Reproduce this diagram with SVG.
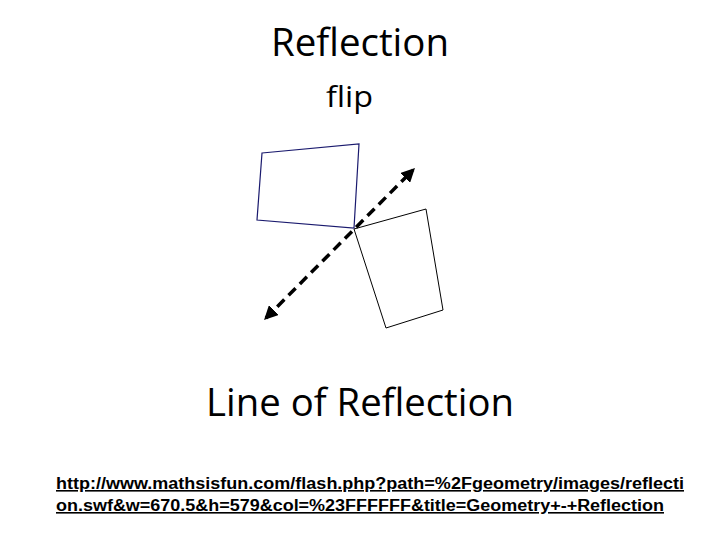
<svg xmlns="http://www.w3.org/2000/svg" width="720" height="540" viewBox="0 0 720 540">
<defs><marker id="ah" viewBox="0 0 10 10" refX="8" refY="5" markerWidth="4" markerHeight="4" orient="auto-start-reverse"><path d="M0,0L10,5L0,10z" fill="#000"/></marker>
<style>.t{font-family:"Open Sans","Liberation Sans",sans-serif;fill:#000}.u{font-family:"Liberation Sans",Arial,sans-serif;font-weight:bold;font-size:16px;fill:#000;text-decoration:underline}</style></defs>
<rect width="720" height="540" fill="#fff"/>
<text class="t" x="271" y="56" font-size="38" textLength="178" lengthAdjust="spacingAndGlyphs">Reflection</text>
<text class="t" x="326" y="107" font-size="30" textLength="47" lengthAdjust="spacingAndGlyphs">flip</text>
<g id="blue-shape"><polygon points="262,153 359,144 354,228 257,220" fill="none" stroke="#1a1a6e" stroke-width="1.2"/></g>
<g id="black-shape"><polygon points="354,229 426,209 443,310 386,328" fill="none" stroke="#000" stroke-width="1"/></g>
<g id="connectors"><line x1="266" y1="318" x2="413" y2="170" stroke="#000" stroke-width="3.5" stroke-dasharray="10,6" marker-start="url(#ah)" marker-end="url(#ah)"/></g>
<text class="t" x="206" y="416" font-size="38" textLength="308" lengthAdjust="spacingAndGlyphs">Line of Reflection</text>
<text class="u" x="56" y="489" textLength="628" lengthAdjust="spacingAndGlyphs">http://www.mathsisfun.com/flash.php?path=%2Fgeometry/images/reflecti</text>
<text class="u" x="56" y="511" textLength="608" lengthAdjust="spacingAndGlyphs">on.swf&amp;w=670.5&amp;h=579&amp;col=%23FFFFFF&amp;title=Geometry+-+Reflection</text>
</svg>
